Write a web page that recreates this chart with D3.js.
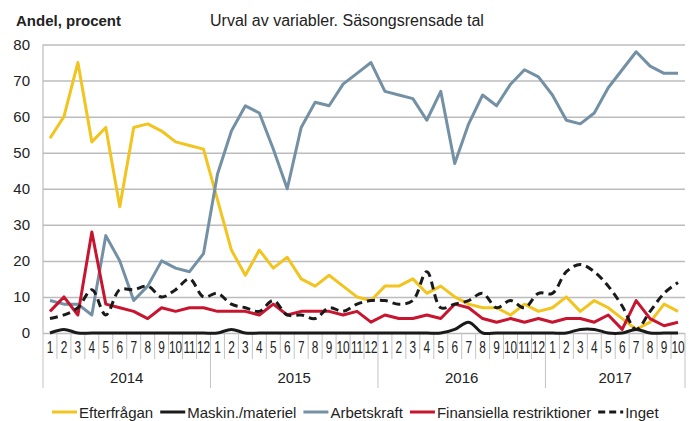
<!DOCTYPE html>
<html>
<head>
<meta charset="utf-8">
<script src="https://cdn.jsdelivr.net/npm/d3@7"></script>
<style>
  body { margin: 0; background: #fff; }
  svg { font-family: Arial, "Liberation Sans", sans-serif; }
</style>
</head>
<body>
<svg id="chart" width="696" height="421"></svg>
<script>
// categories: months 2014-01 .. 2017-10
const years = [2014, 2015, 2016, 2017];
const monthLabels = ['1','2','3','4','5','6','7','8','9','10','11','12'];
const lastYearMonths = 10;

const efterfragan = [54,60,75,53,57,35,57,58,56,53,52,51,
                     37,23,16,23,18,21,15,13,16,13,10,9,
                     13,13,15,11,13,10,8,7,7,5,8,6,
                     7,10,6,9,7,4,1,3,8,6];
const maskin = [0,1,0,0,0,0,0,0,0,0,0,0,
                0,1,0,0,0,0,0,0,0,0,0,0,
                0,0,0,0,0,1,3,0,0,0,0,0,
                0,0,1,1,0,0,1,0,0,0];
const arbetskraft = [9,8,8,5,27,20,9,13,20,18,17,22,
                     44,56,63,61,51,40,57,64,63,69,72,75,
                     67,66,65,59,67,47,58,66,63,69,73,71,
                     66,59,58,61,68,73,78,74,72,72];
const finansiella = [6,10,5,28,8,7,6,4,7,6,7,7,
                     6,6,6,5,8,5,6,6,6,5,6,3,
                     5,4,4,5,4,8,7,4,3,4,3,4,
                     3,4,4,3,5,1,9,4,2,3];
const inget = [4,5,7,12,5,12,12,13,10,12,15,10,
               11,8,7,6,9,5,5,4,7,6,8,9,
               9,8,9,17,7,8,9,11,7,9,7,11,
               11,17,19,17,13,7.5,1,6,11,14];

const yTicks = [0,10,20,30,40,50,60,70,80];

const series = [
  { name: 'Efterfrågan', values: efterfragan, color: '#f2c41f', dash: null, smooth: false },
  { name: 'Maskin./materiel', values: maskin, color: '#1a1a1a', dash: null, smooth: true },
  { name: 'Arbetskraft', values: arbetskraft, color: '#7390a4', dash: null, smooth: false },
  { name: 'Finansiella restriktioner', values: finansiella, color: '#c8152f', dash: null, smooth: false },
  { name: 'Inget', values: inget, color: '#1a1a1a', dash: '8,5', smooth: true }
];

// build category keys
const cats = [];
years.forEach((yr, yi) => {
  const n = yi === years.length - 1 ? lastYearMonths : 12;
  for (let m = 0; m < n; m++) cats.push({ key: yr + '-' + (m + 1), year: yr, label: monthLabels[m] });
});

const svg = d3.select('#chart');
const plotLeft = 43, plotRight = 685, plotTop = 44.5, plotBottom = 333;

const x = d3.scaleBand()
  .domain(cats.map(c => c.key))
  .range([plotLeft, plotRight]);

const y = d3.scaleLinear()
  .domain([0, 80])
  .range([plotBottom, plotTop]);

// gridlines + y labels
const yAxis = svg.append('g')
  .attr('transform', `translate(${plotLeft},0)`)
  .call(d3.axisLeft(y).tickValues(yTicks).tickSize(-(plotRight - plotLeft)).tickPadding(13));
yAxis.select('.domain').remove();
yAxis.selectAll('line').attr('stroke', '#bcbcbc').attr('stroke-width', 1.5);
yAxis.selectAll('text')
  .attr('fill', '#222')
  .style('font-size', '15px');

// left axis line
svg.append('line')
  .attr('x1', plotLeft).attr('x2', plotLeft)
  .attr('y1', plotTop).attr('y2', plotBottom)
  .attr('stroke', '#bcbcbc').attr('stroke-width', 1.2);

// month separators, longer ones between years
const bw = x.bandwidth();
const sep = svg.append('g');
cats.forEach((c, i) => {
  const xs = x(c.key);
  const isYear = i === 0 || cats[i - 1].year !== c.year;
  sep.append('line')
    .attr('x1', xs).attr('x2', xs)
    .attr('y1', plotBottom).attr('y2', isYear ? 388 : 359)
    .attr('stroke', '#c4c4c4').attr('stroke-width', 1);
});
sep.append('line')
  .attr('x1', plotRight).attr('x2', plotRight)
  .attr('y1', plotBottom).attr('y2', 388)
  .attr('stroke', '#c4c4c4').attr('stroke-width', 1);

const xAxis = svg.append('g')
  .attr('transform', `translate(0,${plotBottom})`)
  .call(d3.axisBottom(x).tickSize(0).tickPadding(9).tickFormat(k => cats.find(c => c.key === k).label));
xAxis.select('.domain').remove();
// month labels are squeezed narrow in the original
xAxis.selectAll('text')
  .attr('fill', '#222')
  .attr('transform', 'scale(0.74,1)')
  .style('font-size', '16px');

// year labels
svg.append('g').selectAll('text')
  .data(years)
  .join('text')
  .attr('x', yr => {
    const ks = cats.filter(c => c.year === yr);
    return (x(ks[0].key) + x(ks[ks.length - 1].key) + bw) / 2;
  })
  .attr('y', 383)
  .attr('text-anchor', 'middle')
  .attr('fill', '#222')
  .style('font-size', '15px')
  .text(yr => yr);

// lines
series.forEach(s => {
  const line = d3.line()
    .x((d, i) => x(cats[i].key) + bw / 2)
    .y(d => y(d))
    .curve(s.smooth ? d3.curveCatmullRom.alpha(0.5) : d3.curveLinear);
  svg.append('path')
    .datum(s.values)
    .attr('d', line)
    .attr('fill', 'none')
    .attr('stroke', s.color)
    .attr('stroke-width', 3)
    .attr('stroke-linejoin', 'round')
    .attr('stroke-dasharray', s.dash);
});

// titles
svg.append('text')
  .attr('x', 16).attr('y', 26)
  .attr('fill', '#222')
  .style('font-size', '15px')
  .style('font-weight', 'bold')
  .text('Andel, procent');
svg.append('text')
  .attr('x', 210).attr('y', 26)
  .attr('fill', '#222')
  .style('font-size', '16px')
  .text('Urval av variabler. Säsongsrensade tal');

// legend
const legend = svg.append('g').attr('transform', 'translate(52,412)');
let lx = 0;
series.forEach(s => {
  const g = legend.append('g').attr('transform', `translate(${lx},0)`);
  g.append('line')
    .attr('x1', 0).attr('x2', 25)
    .attr('y1', 0).attr('y2', 0)
    .attr('stroke', s.color)
    .attr('stroke-width', 3)
    .attr('stroke-dasharray', s.dash ? '7,4' : null);
  const t = g.append('text')
    .attr('x', 27).attr('y', 5.5)
    .attr('fill', '#222')
    .style('font-size', '15px')
    .text(s.name);
  lx += 27 + t.node().getComputedTextLength() + 7;
});
</script>
</body>
</html>
